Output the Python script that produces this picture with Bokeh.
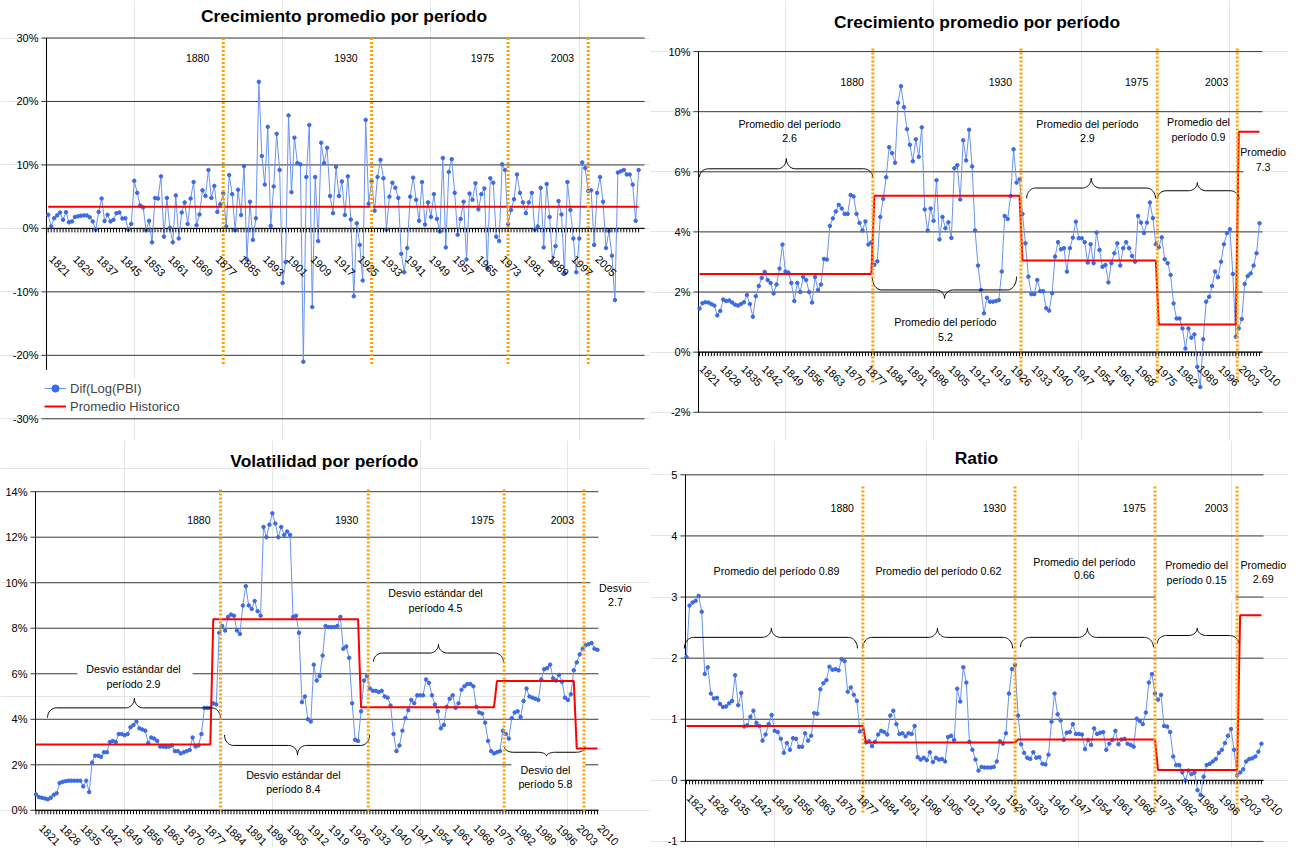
import numpy as np
from bokeh.plotting import figure
from bokeh.models import (Range1d, Label, LabelSet, ColumnDataSource, Legend, LegendItem)
from bokeh.core.properties import value
from bokeh.layouts import column, row
from bokeh.embed import file_html
from bokeh.resources import INLINE

# ---------------------------------------------------------------- data
p1_start_year = 1821
p1_growth = [2.15, 0.3, 1.6, 2.05, 2.5, 1.35, 2.55, 0.95, 1.1, 1.8,
             1.9, 2.0, 2.05, 2.05, 1.75, 1.1, -0.2, 2.6, 4.7, 1.15,
             2.15, 1.1, 1.35, 2.4, 2.5, 1.55, 1.6, -0.2, 0.7, 7.5,
             5.6, 3.6, 3.3, -0.3, 1.2, -2.2, 4.8, 4.7, 8.2, -1.3,
             4.8, 0.1, -2.2, 5.2, -1.6, 2.5, 4.1, 0.7, 4.7, 7.3,
             0.5, 2.2, 6.0, 5.1, 9.2, 4.8, 6.7, 2.6, 3.8, 5.5,
             0.3, 8.4, 5.4, -0.3, 6.1, 2.1, 9.8, -4.9, 4.2, -1.8,
             1.6, 23.1, 11.4, 6.9, 16.0, 0.4, 6.6, 14.9, 9.2, -8.6,
             -5.3, 17.8, 5.7, 14.3, 10.3, 10.1, -21.0, 8.1, 16.3, -12.4,
             8.1, -2.0, 13.5, 10.3, 12.7, 5.1, 2.4, 9.7, 5.1, 7.4,
             2.1, 8.2, 1.4, -10.7, 0.8, -2.6, -8.2, 17.1, 3.9, 7.4,
             2.8, 8.1, 10.8, 7.9, -0.2, 5.0, 7.2, 6.4, 4.8, -4.0,
             -6.9, -3.1, 5.0, 8.0, 4.5, 1.2, 7.3, 0.6, 4.1, 1.8,
             5.4, 1.5, -0.5, 11.1, -3.0, 8.9, 10.9, 5.6, -1.0, 1.5,
             4.2, -4.9, 5.5, 4.5, 7.1, 3.0, 5.4, 6.3, -6.3, 7.9,
             7.2, -1.3, -2.0, 10.1, 9.2, 0.7, 2.9, 4.6, 8.5, 5.6,
             4.1, 2.4, 4.1, 5.6, -0.2, 0.3, 6.4, -3.0, 7.0, 1.8,
             -5.3, -2.8, 4.3, 2.2, -7.0, 7.3, 2.9, -1.6, -6.9, -1.6,
             10.4, 9.5, 5.9, 6.0, -2.6, 5.6, 8.1, 4.2, -3.1, -0.4,
             -4.3, -11.3, 8.8, 9.0, 9.2, 8.5, 8.5, 6.9, 1.2, 9.2]
p1_hist_mean = 3.4

p2_start_year = 1821
p2_growth_avg = [1.45, 1.63, 1.66, 1.65, 1.60, 1.55, 1.22, 1.37, 1.75, 1.70,
                 1.72, 1.65, 1.58, 1.55, 1.60, 1.66, 1.90, 1.60, 1.18, 1.86,
                 2.20, 2.47, 2.67, 2.40, 2.30, 1.95, 2.25, 2.78, 3.58, 2.68,
                 2.65, 2.30, 1.70, 2.30, 2.00, 2.50, 2.40, 2.00, 1.65, 2.50,
                 2.07, 2.25, 3.10, 3.08, 4.20, 4.45, 4.68, 4.90, 4.78, 4.60,
                 4.60, 5.23, 5.18, 4.60, 4.30, 4.05, 4.35, 3.58, 3.65, 2.90,
                 3.02, 4.50, 5.10, 5.82, 6.82, 6.62, 6.30, 8.30, 8.85, 8.15,
                 7.42, 6.90, 6.35, 7.08, 6.50, 7.48, 4.75, 4.05, 4.78, 4.37,
                 5.72, 3.75, 4.50, 4.12, 4.32, 3.80, 6.12, 6.22, 5.08, 7.05,
                 6.38, 7.40, 6.18, 4.05, 2.88, 2.07, 1.29, 1.81, 1.68, 1.68,
                 1.70, 1.73, 2.68, 4.53, 4.43, 5.20, 6.75, 5.64, 5.75, 4.60,
                 3.62, 2.51, 1.93, 1.93, 2.40, 2.03, 2.03, 1.46, 1.38, 1.96,
                 3.18, 3.66, 3.42, 3.46, 2.68, 3.46, 3.81, 4.34, 3.79, 3.79,
                 3.66, 2.98, 3.59, 2.96, 3.98, 3.40, 2.84, 2.90, 2.32, 2.96,
                 3.29, 3.62, 2.88, 3.46, 3.66, 3.46, 3.20, 3.01, 4.53, 4.31,
                 3.96, 4.31, 4.98, 4.46, 3.59, 3.49, 3.82, 3.09, 2.96, 2.57,
                 1.62, 1.12, 1.12, 0.79, 0.12, 0.79, 0.48, 0.59, -0.49, -1.16,
                 0.43, 1.68, 1.84, 2.20, 2.68, 2.49, 3.01, 3.59, 3.96, 4.09,
                 2.60, 0.51, 0.79, 1.10, 2.27, 2.53, 2.62, 2.88, 3.29, 4.29]
p2_period_means = [2.6, 5.2, 3.05, 0.92, 7.33]

p3_start_year = 1820
p3_volatility = [0.70, 0.58, 0.55, 0.52, 0.48, 0.55, 0.68, 0.75, 1.20, 1.25,
                 1.28, 1.30, 1.30, 1.30, 1.30, 1.30, 1.05, 1.30, 0.80, 2.10,
                 2.40, 2.40, 2.35, 2.55, 2.55, 3.00, 3.05, 3.00, 3.35, 3.35,
                 3.30, 3.35, 3.65, 3.75, 3.90, 3.60, 3.55, 3.50, 2.95, 3.20,
                 3.15, 3.05, 2.80, 2.80, 2.78, 2.80, 2.85, 2.60, 2.60, 2.50,
                 2.55, 2.60, 2.65, 3.20, 2.80, 2.85, 3.35, 4.50, 4.50, 4.50,
                 4.70, 4.65, 7.80, 8.10, 7.90, 8.50, 8.60, 8.55, 7.90, 7.75,
                 9.00, 9.85, 9.00, 8.85, 9.20, 8.75, 8.55, 12.45, 12.00, 12.55,
                 13.05, 12.60, 12.00, 12.45, 12.10, 12.25, 12.10, 8.50, 8.55, 7.80,
                 4.75, 5.00, 4.00, 3.90, 6.40, 5.70, 5.90, 6.80, 8.10, 8.05,
                 8.05, 8.05, 8.10, 8.50, 7.10, 7.20, 6.70, 4.70, 3.10, 3.05,
                 4.35, 5.70, 5.90, 5.35, 5.25, 5.25, 5.20, 5.25, 5.00, 4.95,
                 4.60, 3.35, 2.60, 2.85, 3.50, 4.05, 4.40, 4.85, 4.70, 5.05,
                 5.05, 5.05, 5.75, 5.60, 5.05, 4.65, 4.35, 3.60, 3.75, 4.55,
                 4.90, 5.05, 4.50, 4.70, 5.30, 5.45, 5.55, 5.55, 5.45, 4.55,
                 4.30, 4.25, 3.85, 3.05, 2.60, 2.50, 2.55, 2.60, 3.50, 3.35,
                 3.15, 4.05, 4.30, 4.35, 4.10, 4.80, 5.35, 5.00, 4.95, 4.90,
                 4.85, 5.75, 6.20, 6.25, 6.40, 5.80, 5.70, 5.95, 5.65, 4.95,
                 4.85, 5.10, 6.15, 6.50, 6.85, 7.10, 7.25, 7.30, 7.35, 7.10,
                 7.05]
p3_period_sd = [2.89, 8.40, 4.53, 5.68, 2.72]

p4_start_year = 1821
p4_ratio = [2.02, 2.86, 2.91, 2.94, 3.02, 2.76, 1.74, 1.85, 1.42, 1.34,
            1.35, 1.25, 1.20, 1.21, 1.26, 1.30, 1.72, 1.23, 1.43, 0.88,
            0.90, 1.04, 1.14, 0.94, 0.89, 0.65, 0.75, 0.92, 1.07, 0.81,
            0.79, 0.68, 0.45, 0.61, 0.50, 0.69, 0.68, 0.55, 0.55, 0.77,
            0.65, 0.73, 1.10, 1.09, 1.49, 1.59, 1.64, 1.86, 1.81, 1.82,
            1.80, 1.98, 1.95, 1.45, 1.52, 1.40, 1.30, 0.80, 0.81, 0.62,
            0.64, 0.56, 0.63, 0.75, 0.81, 0.79, 0.75, 1.06, 1.14, 0.92,
            0.76, 0.77, 0.72, 0.77, 0.76, 0.89, 0.38, 0.34, 0.37, 0.33,
            0.46, 0.30, 0.37, 0.34, 0.35, 0.31, 0.71, 0.73, 0.66, 1.50,
            1.29, 1.85, 1.60, 0.63, 0.50, 0.34, 0.16, 0.22, 0.21, 0.21,
            0.21, 0.22, 0.31, 0.64, 0.60, 0.77, 1.42, 1.82, 1.89, 1.06,
            0.59, 0.45, 0.37, 0.35, 0.46, 0.37, 0.38, 0.27, 0.26, 0.42,
            0.96, 1.42, 1.08, 0.98, 0.66, 0.78, 0.79, 0.92, 0.76, 0.76,
            0.75, 0.51, 0.66, 0.58, 0.85, 0.76, 0.78, 0.79, 0.50, 0.60,
            0.66, 0.81, 0.59, 0.67, 0.68, 0.60, 0.58, 0.55, 1.01, 0.97,
            0.92, 1.11, 1.60, 1.74, 1.42, 1.32, 1.40, 0.89, 0.88, 0.79,
            0.39, 0.25, 0.25, 0.13, 0.00, 0.16, 0.10, 0.13, -0.16, -0.24,
            0.06, 0.25, 0.27, 0.31, 0.35, 0.45, 0.50, 0.61, 0.73, 0.84,
            0.50, 0.08, 0.13, 0.18, 0.31, 0.35, 0.36, 0.39, 0.47, 0.60]
p4_period_ratio = [0.89, 0.62, 0.67, 0.17, 2.70]

period_breaks = [1880, 1930, 1976, 2003]
period_names = ["1880", "1930", "1975", "2003"]

p1_tick_labels = [str(y) for y in range(1821, 2006, 8)]
p234_tick_labels = [str(y) for y in range(1821, 2011, 7)]

p1_yticks = [-30, -20, -10, 0, 10, 20, 30]
p2_yticks = [-2, 0, 2, 4, 6, 8, 10]
p3_yticks = [0, 2, 4, 6, 8, 10, 12, 14]
p4_yticks = [-1, 0, 1, 2, 3, 4, 5]

# ---------------------------------------------------------------- style
FONT = "Liberation Sans"
BLUE_LINE = "#6A93F0"
BLUE_PT = "#3C6AE4"
RED = "#FF0000"
ORANGE = "#FFA000"
GRID = "#3a3a3a"


def years_for(start, n):
    return list(range(start, start + n))


def period_series(years, means):
    out = []
    for y in years:
        k = sum(1 for b in period_breaks if y >= b)
        out.append(means[k])
    return out


def brace(x0, x1, xc, y_end, y_flat, y_tip, r=3.0, n=14):
    t = np.linspace(0, np.pi / 2, n)
    xa = x0 + r * (1 - np.cos(t)); ya = y_end + (y_flat - y_end) * np.sin(t)
    xb = (xc - r) + r * np.sin(t); yb = y_flat + (y_tip - y_flat) * (1 - np.cos(t))
    xc2 = xc + r * (1 - np.cos(t)); yc2 = y_tip - (y_tip - y_flat) * np.sin(t)
    xd = (x1 - r) + r * np.sin(t); yd = y_flat + (y_end - y_flat) * (1 - np.cos(t))
    return (list(np.concatenate([xa, xb, xc2, xd])),
            list(np.concatenate([ya, yb, yc2, yd])))


def make_fig(w, h, xr, yr):
    p = figure(width=w, height=h, x_range=Range1d(*xr), y_range=Range1d(*yr),
               output_backend="svg", toolbar_location=None,
               x_axis_location=None, y_axis_location=None, min_border=0)
    p.outline_line_color = None
    p.background_fill_color = "white"
    p.border_fill_color = "white"
    return p


def draw_frame(p, axis_x, right_x, tick_len, yticks, fmt, ybot, ytop, gaps):
    n = len(yticks)
    p.segment(x0=[axis_x - tick_len] * n, y0=yticks, x1=[right_x] * n, y1=yticks,
              line_color=GRID, line_width=1)
    if gaps:
        p.quad(left=[g[0] for g in gaps], right=[g[1] for g in gaps],
               bottom=[g[2] for g in gaps], top=[g[3] for g in gaps],
               fill_color="white", line_color=None)
    p.segment(x0=[axis_x], y0=[0], x1=[right_x], y1=[0], line_color="black", line_width=1)
    p.segment(x0=[axis_x], y0=[ybot], x1=[axis_x], y1=[ytop], line_color="black",
              line_width=1)
    src = ColumnDataSource(dict(x=[axis_x] * n, y=yticks, t=[fmt % v for v in yticks]))
    p.add_layout(LabelSet(x="x", y="y", text="t", source=src, x_offset=-8,
                          text_align="right", text_baseline="middle",
                          text_font=value(FONT), text_font_size=value("11px"),
                          text_color="black"))


def add_title(p, text, x, y):
    p.add_layout(Label(x=x, y=y, text=text, text_align="center", text_baseline="middle",
                       text_font=FONT, text_font_size="17.4px", text_font_style="bold",
                       text_color="black"))


def add_x_axis(p, all_years, labels, dx, dy):
    p.ray(x=all_years, y=[0] * len(all_years), length=4, length_units="screen",
          angle=-np.pi / 2, line_color="black", line_width=1)
    xs = [int(s) for s in labels]
    src = ColumnDataSource(dict(x=xs, y=[0] * len(xs), t=labels))
    p.add_layout(LabelSet(x="x", y="y", text="t", source=src, angle=-np.pi / 4,
                          x_offset=dx, y_offset=dy, text_align="left",
                          text_baseline="top", text_font=value(FONT),
                          text_font_size=value("11px"), text_color="black"))


def add_series(p, years, vals, red_vals):
    ln = p.line(years, vals, line_color=BLUE_LINE, line_width=1)
    sc = p.scatter(years, vals, size=3.5, marker="circle", fill_color=BLUE_PT,
                   line_color=BLUE_PT)
    rd = p.line(years, red_vals, line_color=RED, line_width=2)
    return ln, sc, rd


def add_period_lines(p, shift, ytop, ybot, label_y, label_dx):
    xs = [b + shift for b in period_breaks]
    p.segment(x0=xs, y0=[ytop] * len(xs), x1=xs, y1=[ybot] * len(xs),
              line_color=ORANGE, line_width=3, line_dash="2 2")
    for x, name in zip(xs, period_names):
        p.add_layout(Label(x=x, y=label_y, text=name, x_offset=label_dx,
                           text_align="right", text_baseline="middle",
                           text_font=FONT, text_font_size="10.5px",
                           text_color="black"))


def add_texts(p, texts):
    for txt, x, y in texts:
        p.add_layout(Label(x=x, y=y, text=txt, text_align="center",
                           text_baseline="middle", text_font=FONT,
                           text_font_size="10.7px", text_color="black"))


def add_braces(p, braces):
    for bdef in braces:
        bx, by = brace(*bdef)
        p.line(bx, by, line_color="black", line_width=1)


# ---------------------------------------------------------------- panel 1
y1 = years_for(p1_start_year, len(p1_growth))
p1 = make_fig(650, 440, (1804.92, 2024.0), (-33.42, 35.91))
draw_frame(p1, 1820.43, 2022.0, 1.69, p1_yticks, "%d%%", -22.3, 30, [])
ln1, sc1, rd1 = add_series(p1, y1, p1_growth, [p1_hist_mean] * len(y1))
add_period_lines(p1, 0.0, 30, -21.5, 26.85, -14)
add_x_axis(p1, y1, p1_tick_labels, 6, -26)
add_title(p1, "Crecimiento promedio por período", 1920.7, 33.39)
legend = Legend(items=[LegendItem(label="Dif(Log(PBI)", renderers=[ln1, sc1]),
                       LegendItem(label="Promedio Historico", renderers=[rd1])],
                location=(44, 25), label_text_font=FONT, label_text_font_size="13px",
                glyph_width=22, glyph_height=18, label_height=18, label_standoff=4,
                spacing=0, padding=1, margin=0, border_line_color=None,
                background_fill_color="white", background_fill_alpha=1.0)
p1.add_layout(legend)

# ---------------------------------------------------------------- panel 2
y2 = years_for(p2_start_year, len(p2_growth_avg))
p2 = make_fig(638, 440, (1804.46, 2019.78), (-2.94, 11.70))
draw_frame(p2, 1820.66, 2011.0, 1.69, p2_yticks, "%d%%", -2, 10,
           [(2004.6, 2011.5, 5.85, 6.15)])
add_series(p2, y2, p2_growth_avg, period_series(y2, p2_period_means))
add_braces(p2, [(1821.0, 1879.4, 1850.3, 5.83, 6.10, 6.44),
                (1879.3, 1928.0, 1903.7, 2.51, 2.07, 1.79),
                (1931.4, 1974.9, 1953.2, 5.12, 5.46, 5.79),
                (1975.5, 2003.1, 1989.0, 5.09, 5.37, 5.64)])
add_period_lines(p2, -0.5, 10.1, -1.05, 9.0, -9)
add_x_axis(p2, y2, p234_tick_labels, 5, -12)
add_title(p2, "Crecimiento promedio por período", 1914.65, 11.0)
add_texts(p2, [("Promedio del período", 1851.4, 7.6), ("2.6", 1851.4, 7.13),
               ("Promedio del período", 1904.0, 1.0), ("5.2", 1904.0, 0.5),
               ("Promedio del período", 1951.9, 7.6), ("2.9", 1951.9, 7.13),
               ("Promedio del", 1989.4, 7.67), ("período 0.9", 1989.4, 7.17),
               ("Promedio", 2011.2, 6.67), ("7.3", 2011.2, 6.17)])

# ---------------------------------------------------------------- panel 3
y3 = years_for(p3_start_year, len(p3_volatility))
p3 = make_fig(650, 407, (1807.99, 2027.96), (-1.635, 16.25))
draw_frame(p3, 1819.83, 2010.35, 1.70, p3_yticks, "%d%%", 0, 14,
           [(1834.0, 1873.0, 5.85, 6.15), (2007.6, 2011.0, 9.85, 10.15),
            (1980.9, 2005.9, 1.85, 2.15)])
add_series(p3, y3, p3_volatility, period_series(y3, p3_period_sd))
add_braces(p3, [(1823.9, 1882.4, 1853.3, 4.07, 4.50, 4.92),
                (1883.8, 1932.9, 1908.5, 3.31, 2.85, 2.43),
                (1934.2, 1978.2, 1956.2, 6.53, 6.91, 7.29),
                (1978.5, 2005.9, 1992.8, 2.81, 2.55, 2.38)])
add_period_lines(p3, 2.45, 14.1, -0.05, 12.75, -10)
add_x_axis(p3, y3, p234_tick_labels, 5, -13)
add_title(p3, "Volatilidad por período", 1917.6, 15.37)
add_texts(p3, [("Desvio estándar del", 1853.0, 6.2), ("período 2.9", 1853.0, 5.56),
               ("Desvio estándar del", 1907.1, 1.54), ("período 8.4", 1907.1, 0.95),
               ("Desvio estándar del", 1955.2, 9.53), ("período 4.5", 1955.2, 8.9),
               ("Desvio", 2016.1, 9.78), ("2.7", 2016.1, 9.15),
               ("Desvio del", 1992.4, 1.75), ("período 5.8", 1992.4, 1.16)])

# ---------------------------------------------------------------- panel 4
y4 = years_for(p4_start_year, len(p4_ratio))
p4 = make_fig(638, 407, (1809.17, 2018.90), (-1.099, 5.562))
draw_frame(p4, 1820.67, 2010.68, 1.64, p4_yticks, "%d", -1, 5,
           [(1975.2, 2001.5, 2.93, 3.07)])
add_series(p4, y4, p4_ratio, period_series(y4, p4_period_ratio))
add_braces(p4, [(1820.3, 1877.2, 1848.9, 2.16, 2.34, 2.49),
                (1878.9, 1928.2, 1903.5, 2.16, 2.34, 2.49),
                (1930.8, 1974.5, 1952.8, 2.18, 2.34, 2.49),
                (1975.8, 2002.5, 1988.9, 2.24, 2.37, 2.49)])
add_period_lines(p4, -1.0, 4.81, -0.54, 4.45, -9)
add_x_axis(p4, y4, p234_tick_labels, 5, -13)
add_title(p4, "Ratio", 1916.3, 5.279)
add_texts(p4, [("Promedio del período 0.89", 1850.6, 3.42),
               ("Promedio del período 0.62", 1903.8, 3.42),
               ("Promedio del período", 1951.8, 3.58), ("0.66", 1951.8, 3.36),
               ("Promedio del", 1988.7, 3.52), ("período 0.15", 1988.7, 3.28),
               ("Promedio", 2010.6, 3.52), ("2.69", 2010.6, 3.29)])

layout = column(row(p1, p2), row(p3, p4))
open("out.html", "w").write(file_html(layout, INLINE))
